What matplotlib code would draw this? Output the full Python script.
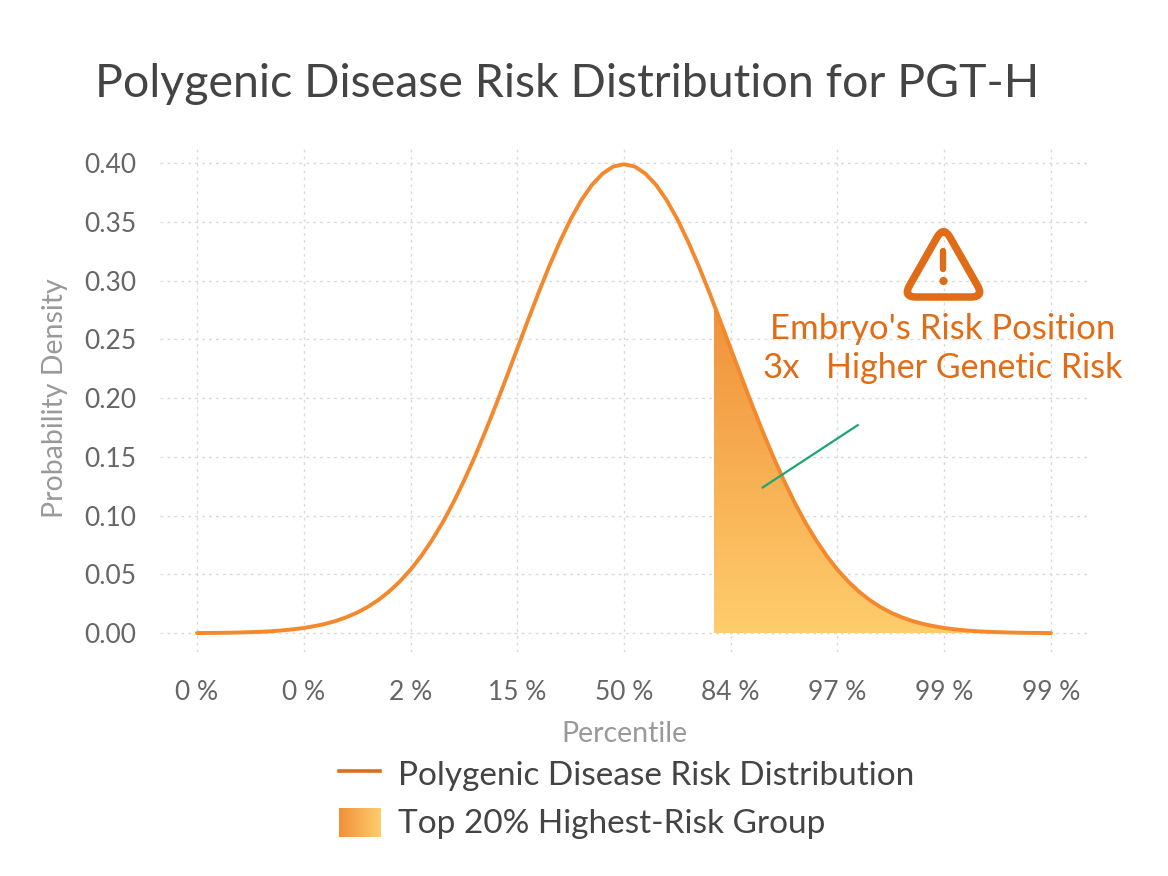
#!/usr/bin/env python3
# Polygenic risk bell curve for PGT-H, top 20% tail shaded with a gradient

import numpy as np
import matplotlib
matplotlib.use("Agg")
import matplotlib.pyplot as plt
from matplotlib.colors import LinearSegmentedColormap
from matplotlib.patches import Polygon, Circle, PathPatch
from matplotlib.path import Path

# --- DATA ---
z_scores = [-4.0, -3.9, -3.8, -3.7, -3.6, -3.5, -3.4, -3.3, -3.2, -3.1,
            -3.0, -2.9, -2.8, -2.7, -2.6, -2.5, -2.4, -2.3, -2.2, -2.1,
            -2.0, -1.9, -1.8, -1.7, -1.6, -1.5, -1.4, -1.3, -1.2, -1.1,
            -1.0, -0.9, -0.8, -0.7, -0.6, -0.5, -0.4, -0.3, -0.2, -0.1,
            0.0, 0.1, 0.2, 0.3, 0.4, 0.5, 0.6, 0.7, 0.8, 0.9,
            1.0, 1.1, 1.2, 1.3, 1.4, 1.5, 1.6, 1.7, 1.8, 1.9,
            2.0, 2.1, 2.2, 2.3, 2.4, 2.5, 2.6, 2.7, 2.8, 2.9,
            3.0, 3.1, 3.2, 3.3, 3.4, 3.5, 3.6, 3.7, 3.8, 3.9, 4.0]
density = [0.0001, 0.0002, 0.0003, 0.0004, 0.0006, 0.0009, 0.0012, 0.0017, 0.0024, 0.0033,
           0.0044, 0.0060, 0.0079, 0.0104, 0.0136, 0.0175, 0.0224, 0.0283, 0.0355, 0.0440,
           0.0540, 0.0656, 0.0790, 0.0940, 0.1109, 0.1295, 0.1497, 0.1714, 0.1942, 0.2179,
           0.2420, 0.2661, 0.2897, 0.3123, 0.3332, 0.3521, 0.3683, 0.3814, 0.3910, 0.3970,
           0.3989, 0.3970, 0.3910, 0.3814, 0.3683, 0.3521, 0.3332, 0.3123, 0.2897, 0.2661,
           0.2420, 0.2179, 0.1942, 0.1714, 0.1497, 0.1295, 0.1109, 0.0940, 0.0790, 0.0656,
           0.0540, 0.0440, 0.0355, 0.0283, 0.0224, 0.0175, 0.0136, 0.0104, 0.0079, 0.0060,
           0.0044, 0.0033, 0.0024, 0.0017, 0.0012, 0.0009, 0.0006, 0.0004, 0.0003, 0.0002, 0.0001]
tick_z = [-4, -3, -2, -1, 0, 1, 2, 3, 4]
tick_labels = ["0 %", "0 %", "2 %", "15 %", "50 %", "84 %", "97 %", "99 %", "99 %"]
y_ticks = [0.00, 0.05, 0.10, 0.15, 0.20, 0.25, 0.30, 0.35, 0.40]
top20_z = 0.84          # 80th percentile cut
top20_density = 0.28
pointer_start = (1.30, 0.124)
pointer_end = (2.19, 0.177)

# --- STYLE ---
W, H = 1168, 876
FONT = ["Lato", "DejaVu Sans"]
ORANGE = "#F4882C"
ORANGE_DARK = "#E06C17"
GRAD_TOP = "#F0903A"
GRAD_BOTTOM = "#FECD6C"
GREEN = "#1BA672"

plt.rcParams["font.family"] = FONT


def fx(px):
    return px / W


def fy(py):
    return 1 - py / H


def rounded_triangle(pts, cut):
    # closed path with each corner replaced by a quadratic curve
    verts, codes = [], []
    n = len(pts)
    for i in range(n):
        p = np.array(pts[i], float)
        prev = np.array(pts[i - 1], float)
        nxt = np.array(pts[(i + 1) % n], float)
        a = p + (prev - p) / np.linalg.norm(prev - p) * cut
        b = p + (nxt - p) / np.linalg.norm(nxt - p) * cut
        verts += [tuple(a), tuple(p), tuple(b)]
        codes += [Path.MOVETO if i == 0 else Path.LINETO, Path.CURVE3, Path.CURVE3]
    verts.append(verts[0])
    codes.append(Path.CLOSEPOLY)
    return Path(verts, codes)


fig = plt.figure(figsize=(W / 100, H / 100), dpi=100)
fig.patch.set_facecolor("white")

# plot area, measured in pixels of the reference
ax = fig.add_axes([fx(160), fy(652), fx(1088) - fx(160), fy(145) - fy(652)])
ax.set_xlim(-4.347, 4.347)
ax.set_ylim(-0.016, 0.4153)

for s in ax.spines.values():
    s.set_visible(False)
ax.tick_params(length=0)
ax.grid(True, linestyle=(0, (2, 3)), color="#D9D9D9", linewidth=1)
ax.set_axisbelow(True)

ax.set_xticks(tick_z)
ax.set_xticklabels(tick_labels, fontsize=19, color="#666666")
ax.set_yticks(y_ticks)
ax.set_yticklabels([f"{v:.2f}" for v in y_ticks], fontsize=19, color="#666666")
ax.tick_params(axis="x", pad=20)
ax.tick_params(axis="y", pad=17)
ax.set_xlabel("Percentile", fontsize=20.5, color="#999999", labelpad=12)
ax.set_ylabel("Probability Density", fontsize=20.5, color="#999999", labelpad=12)

# gradient tail (top 20%)
zs = np.array(z_scores)
ds = np.array(density)
keep = zs > top20_z
tail_x = np.concatenate([[top20_z], zs[keep]])
tail_y = np.concatenate([[top20_density], ds[keep]])
verts = [(top20_z, 0)] + list(zip(tail_x, tail_y)) + [(tail_x[-1], 0)]
clip = Polygon(verts, closed=True, facecolor="none", edgecolor="none",
               transform=ax.transData)
ax.add_patch(clip)
cmap = LinearSegmentedColormap.from_list("tail", [GRAD_BOTTOM, GRAD_TOP])
grad = np.linspace(0, 1, 256).reshape(-1, 1)
img = ax.imshow(grad, cmap=cmap, origin="lower", aspect="auto",
                extent=[top20_z, tail_x[-1], 0, top20_density], zorder=2)
img.set_clip_path(clip)

ax.plot(z_scores, density, color=ORANGE, linewidth=2.8, zorder=3,
        solid_capstyle="round")

ax.plot([pointer_start[0], pointer_end[0]], [pointer_start[1], pointer_end[1]],
        color=GREEN, linewidth=1.6, zorder=4)

# warning icon in its own pixel-space axes
iax = fig.add_axes([fx(895), fy(310), fx(995) - fx(895), fy(220) - fy(310)])
iax.set_xlim(895, 995)
iax.set_ylim(310, 220)
iax.axis("off")
tri = rounded_triangle([(943.5, 226), (903, 297), (984, 297)], 13)
iax.add_patch(PathPatch(tri, facecolor="none", edgecolor=ORANGE_DARK,
                        linewidth=5.4, joinstyle="round"))
iax.plot([943.5, 943.5], [251, 269], color=ORANGE_DARK, linewidth=4.6,
         solid_capstyle="round")
iax.add_patch(Circle((943.5, 281), 3.4, color=ORANGE_DARK))

# annotation text
fig.text(fx(943), fy(339), "Embryo's Risk Position", ha="center", va="baseline",
         fontsize=25, color=ORANGE_DARK)
fig.text(fx(763), fy(378), "3x", ha="left", va="baseline",
         fontsize=25, color=ORANGE_DARK)
fig.text(fx(826), fy(378), "Higher Genetic Risk", ha="left", va="baseline",
         fontsize=24.5, color=ORANGE_DARK)

# title
fig.text(fx(567), fy(97), "Polygenic Disease Risk Distribution for PGT-H",
         ha="center", va="baseline", fontsize=33.5, color="#444444")

# legend, drawn by hand so the patch can carry the gradient
lax = fig.add_axes([0, 0, 1, 1], facecolor="none")
lax.axis("off")
lax.plot([339, 380], [771, 771], color=ORANGE_DARK, linewidth=2.6)
lax.imshow(np.linspace(0, 1, 64).reshape(1, -1),
           cmap=LinearSegmentedColormap.from_list("leg", [GRAD_TOP, GRAD_BOTTOM]),
           extent=[339, 381, 837, 808], aspect="auto")
lax.set_xlim(0, W)
lax.set_ylim(H, 0)
lax.text(398, 776, "Polygenic Disease Risk Distribution", ha="left", va="center",
         fontsize=24, color="#444444")
lax.text(398, 824, "Top 20% Highest-Risk Group", ha="left", va="center",
         fontsize=24, color="#444444")

fig.savefig("out.png", dpi=100)
